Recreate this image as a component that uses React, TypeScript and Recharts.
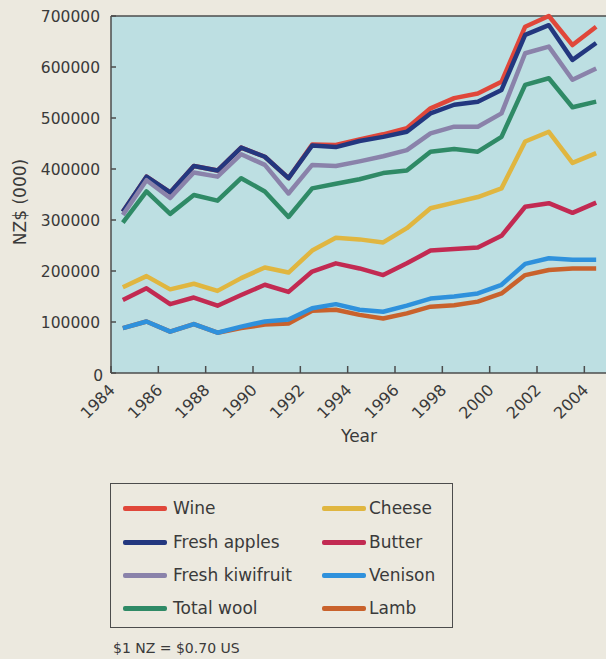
import React from 'react';
import { LineChart, Line, XAxis, YAxis, CartesianGrid, ReferenceLine } from 'recharts';

const years = [1984.5, 1985.5, 1986.5, 1987.5, 1988.5, 1989.5, 1990.5, 1991.5, 1992.5, 1993.5, 1994.5, 1995.5, 1996.5, 1997.5, 1998.5, 1999.5, 2000.5, 2001.5, 2002.5, 2003.5, 2004.5];

const wine = [316000, 385000, 354000, 406000, 397000, 442000, 424000, 382000, 448000, 447000, 458000, 468000, 480000, 519000, 539000, 548000, 571000, 679000, 700000, 643000, 679000];
const freshApples = [316000, 385000, 354000, 406000, 397000, 442000, 424000, 382000, 446000, 443000, 455000, 463000, 473000, 509000, 526000, 532000, 555000, 663000, 682000, 614000, 647000];
const freshKiwifruit = [310000, 378000, 343000, 393000, 385000, 429000, 408000, 352000, 408000, 406000, 415000, 425000, 437000, 470000, 483000, 483000, 509000, 627000, 640000, 575000, 597000];
const totalWool = [295000, 356000, 312000, 349000, 338000, 382000, 356000, 306000, 362000, 371000, 380000, 392000, 397000, 434000, 439000, 434000, 463000, 565000, 578000, 521000, 532000];
const cheese = [168000, 190000, 164000, 175000, 161000, 186000, 207000, 197000, 240000, 265000, 262000, 256000, 284000, 323000, 334000, 345000, 362000, 454000, 473000, 412000, 431000];
const butter = [143000, 166000, 135000, 148000, 132000, 153000, 173000, 159000, 199000, 215000, 205000, 192000, 215000, 240000, 243000, 246000, 269000, 326000, 333000, 314000, 334000];
const venison = [88000, 101000, 81000, 96000, 79000, 91000, 101000, 105000, 127000, 135000, 124000, 120000, 132000, 146000, 150000, 156000, 173000, 214000, 225000, 222000, 222000];
const lamb = [88000, 101000, 81000, 96000, 79000, 88000, 95000, 97000, 122000, 124000, 114000, 107000, 117000, 130000, 133000, 140000, 156000, 192000, 202000, 205000, 205000];

const xTicks = [1984, 1986, 1988, 1990, 1992, 1994, 1996, 1998, 2000, 2002, 2004];
const yTicks = [0, 100000, 200000, 300000, 400000, 500000, 600000, 700000];

const seriesNames = ['Wine', 'Fresh apples', 'Fresh kiwifruit', 'Total wool', 'Cheese', 'Butter', 'Venison', 'Lamb'];
const seriesKeys = ['wine', 'apples', 'kiwi', 'wool', 'cheese', 'butter', 'venison', 'lamb'];
const seriesValues = [wine, freshApples, freshKiwifruit, totalWool, cheese, butter, venison, lamb];
const seriesColors = ['#e0473a', '#23377f', '#8a82aa', '#2f8a66', '#e0b640', '#c22a52', '#2f91dc', '#c9622c'];
// draw order (later = on top)
const drawOrder = ['wine', 'apples', 'kiwi', 'wool', 'cheese', 'butter', 'lamb', 'venison'];

const data = years.map((y, i) => {
  const row: Record<string, number> = { year: y };
  seriesKeys.forEach((k, j) => {
    row[k] = seriesValues[j][i];
  });
  return row;
});

const FONT = '"DejaVu Sans", sans-serif';
const TEXT = '#3a3a3a';
const AXIS = '#4c4c4c';
const BG = '#ece9df';
const PLOT = '#bddfe2';

const XTick = (props: any) => {
  const { x, y, payload } = props;
  const tx = x + 5;
  const ty = y + 18;
  return (
    <g>
      <line x1={x} x2={x} y1={y} y2={y - 7} stroke={AXIS} strokeWidth={1.5} />
      <text x={tx} y={ty} textAnchor="end" fill={TEXT} fontSize={16} fontFamily={FONT} transform={`rotate(-45 ${tx} ${ty})`}>
        {payload.value}
      </text>
    </g>
  );
};

const YTick = (props: any) => {
  const { x, y, payload } = props;
  const isZero = payload.value === 0;
  return (
    <g>
      <line x1={x} x2={x + 5} y1={y} y2={y} stroke={AXIS} strokeWidth={1.5} />
      <text x={isZero ? x - 8 : x - 11} y={y + (isZero ? 8 : 5.5)} textAnchor="end" fill={TEXT} fontSize={15.5} fontFamily={FONT}>
        {payload.value}
      </text>
    </g>
  );
};

const YLabel = () => (
  <text x={20} y={202} transform="rotate(-90 20 202)" textAnchor="middle" dominantBaseline="central" fill={TEXT} fontSize={17} fontFamily={FONT}>
    NZ$ (000)
  </text>
);

const XLabel = () => (
  <text x={359} y={442} textAnchor="middle" fill={TEXT} fontSize={17} fontFamily={FONT}>
    Year
  </text>
);

const legendCol1 = ['Wine', 'Fresh apples', 'Fresh kiwifruit', 'Total wool'];
const legendCol2 = ['Cheese', 'Butter', 'Venison', 'Lamb'];

const LegendBox = () => {
  const rowsY = [24, 58, 91, 124];
  const renderCol = (names: string[], swX: number, txX: number) =>
    names.map((n, r) => {
      const color = seriesColors[seriesNames.indexOf(n)];
      return (
        <React.Fragment key={n}>
          <div style={{ position: 'absolute', left: swX, top: rowsY[r] - 2.5, width: 44, height: 5, background: color, borderRadius: 2 }} />
          <div style={{ position: 'absolute', left: txX, top: rowsY[r] - 12, fontSize: 17, lineHeight: '24px', fontFamily: FONT, color: TEXT, whiteSpace: 'nowrap' }}>{n}</div>
        </React.Fragment>
      );
    });
  return (
    <div style={{ position: 'absolute', left: 110, top: 483, width: 343, height: 145, border: `1.5px solid ${AXIS}`, boxSizing: 'border-box' }}>
      {renderCol(legendCol1, 12, 62)}
      {renderCol(legendCol2, 211, 258)}
    </div>
  );
};

export default function App() {
  return (
    <div style={{ position: 'absolute', left: 0, top: 0, width: 606, height: 659, background: BG, overflow: 'hidden' }}>
      <LineChart width={608} height={450} data={data} margin={{ top: 16, right: 0, left: 0, bottom: 0 }}>
        <CartesianGrid horizontal={false} vertical={false} fill={PLOT} />
        <XAxis
          dataKey="year"
          type="number"
          domain={[1984, 2005]}
          ticks={xTicks}
          interval={0}
          height={77}
          tickSize={0}
          tickMargin={0}
          tick={<XTick />}
          axisLine={{ stroke: AXIS, strokeWidth: 1.5 }}
          label={<XLabel />}
        />
        <YAxis
          type="number"
          domain={[0, 700000]}
          ticks={yTicks}
          interval={0}
          width={111}
          tickSize={0}
          tickMargin={0}
          tick={<YTick />}
          axisLine={{ stroke: AXIS, strokeWidth: 1.5 }}
          label={<YLabel />}
        />
        <ReferenceLine y={700000} stroke={AXIS} strokeWidth={1.5} />
        {drawOrder.map((k) => {
          const j = seriesKeys.indexOf(k);
          return (
            <Line
              key={k}
              dataKey={k}
              name={seriesNames[j]}
              stroke={seriesColors[j]}
              strokeWidth={4.5}
              strokeLinejoin="round"
              dot={false}
              activeDot={false}
              isAnimationActive={false}
            />
          );
        })}
      </LineChart>
      <LegendBox />
      <div style={{ position: 'absolute', left: 113, top: 639, fontSize: 14, lineHeight: '18px', fontFamily: FONT, color: TEXT, whiteSpace: 'nowrap' }}>
        $1 NZ = $0.70 US
      </div>
    </div>
  );
}
